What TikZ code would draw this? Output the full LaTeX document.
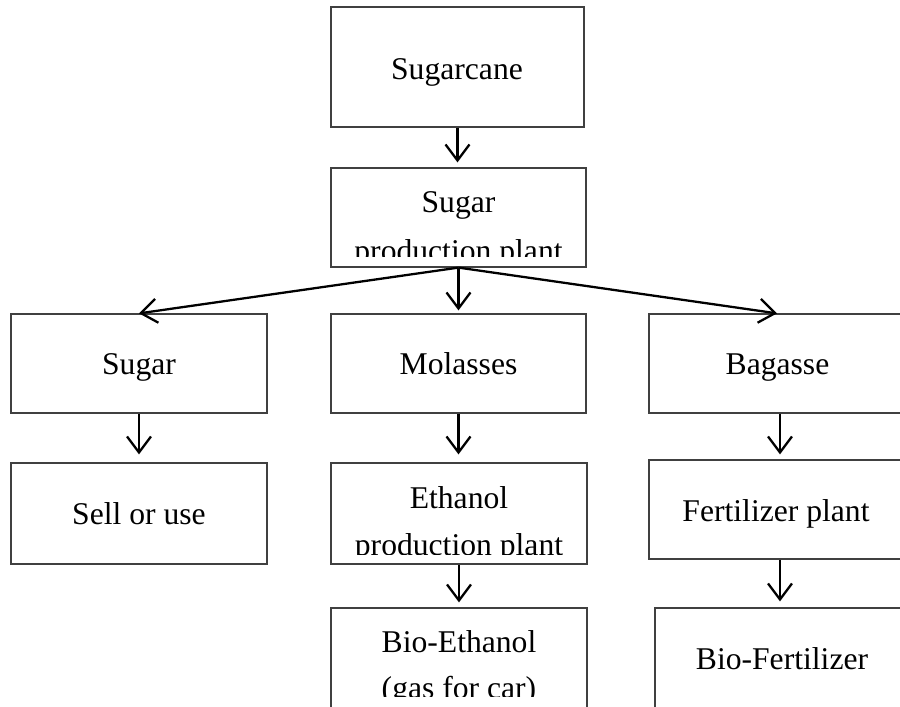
\documentclass[tikz,border=0pt]{standalone}
\usepackage{fontspec}
\setmainfont{Liberation Serif}
\usetikzlibrary{arrows.meta}

\begin{document}
\begin{tikzpicture}[>={Straight Barb[length=3.2mm, width=4.8mm]},
	box/.style={draw=black!75, line width=0.7pt, inner sep=0pt},
	lbl/.style={anchor=base, inner sep=0pt, font=\fontsize{18}{22}\selectfont},
	flow/.style={->, line width=1.3pt}]
	\clip (0, 0) rectangle (18, 14.14);
	\coordinate (cut) at (0, 0.2);

	% boxes
	\node[box, minimum width=5.06cm, minimum height=2.4cm] (cane) at (9.15, 12.8) {};
	\node[box, minimum width=5.1cm, minimum height=1.98cm] (plant) at (9.17, 9.79) {};
	\node[box, minimum width=5.12cm, minimum height=1.98cm] (sugar) at (2.78, 6.87) {};
	\node[box, minimum width=5.1cm, minimum height=1.98cm] (molasses) at (9.17, 6.87) {};
	\node[box, minimum width=5.12cm, minimum height=1.98cm] (bagasse) at (15.54, 6.87) {};
	\node[box, minimum width=5.12cm, minimum height=2.02cm] (sell) at (2.78, 3.87) {};
	\node[box, minimum width=5.12cm, minimum height=2.02cm] (ethanol) at (9.18, 3.87) {};
	\node[box, minimum width=5.12cm, minimum height=1.98cm] (fert) at (15.54, 3.95) {};
	\node[box, minimum width=5.12cm, minimum height=2.64cm] (bioeth) at (9.18, 0.66) {};
	\node[box, minimum width=5.08cm, minimum height=2.64cm] (biofert) at (15.64, 0.66) {};

	% texts
	\node[lbl] (caneT) at (9.14, 12.54) {Sugarcane};
	\begin{scope}
		\clip ([yshift=2.2mm]plant.south west) rectangle (plant.north east);
		\node[lbl] (plantA) at (9.17, 9.88) {Sugar};
		\node[lbl] (plantB) at (9.17, 8.90) {production plant};
	\end{scope}
	\node[lbl] (sugarT) at (2.78, 6.64) {Sugar};
	\node[lbl] (molassesT) at (9.17, 6.64) {Molasses};
	\node[lbl] (bagasseT) at (15.55, 6.64) {Bagasse};
	\node[lbl] (sellT) at (2.78, 3.64) {Sell or use};
	\begin{scope}
		\clip ([yshift=2mm]ethanol.south west) rectangle (ethanol.north east);
		\node[lbl] (ethanolA) at (9.18, 3.96) {Ethanol};
		\node[lbl] (ethanolB) at (9.18, 3.02) {production plant};
	\end{scope}
	\node[lbl] (fertT) at (15.52, 3.70) {Fertilizer plant};
	\begin{scope}
		\clip (bioeth.north west) rectangle (bioeth.east |- cut);
		\node[lbl] (bioethA) at (9.18, 1.08) {Bio-Ethanol};
		\node[lbl] (bioethB) at (9.18, 0.16) {(gas for car)};
	\end{scope}
	\node[lbl] (biofertT) at (15.64, 0.74) {Bio-Fertilizer};

	% arrows
	\draw[flow, shorten >=1mm] (cane.south) -- (cane.south |- plant.north);
	\draw[flow] (plant.south) -- (sugar.north);
	\draw[flow, shorten >=0.6mm] (plant.south) -- (plant.south |- molasses.north);
	\draw[flow] (plant.south) -- (bagasse.north);
	\draw[flow, shorten >=1.6mm] (sugar.south) -- (sell.north);
	\draw[flow, shorten >=1.6mm] (molasses.south) -- (molasses.south |- ethanol.north);
	\draw[flow, shorten >=1mm] (ethanol.south) -- (bioeth.north);
	\draw[flow, shorten >=1mm] ([xshift=0.06cm]bagasse.south) -- ([xshift=0.06cm]bagasse.south |- fert.north);
	\draw[flow, shorten >=1.2mm] ([xshift=0.06cm]fert.south) -- ([xshift=0.06cm]fert.south |- biofert.north);
\end{tikzpicture}
\end{document}
